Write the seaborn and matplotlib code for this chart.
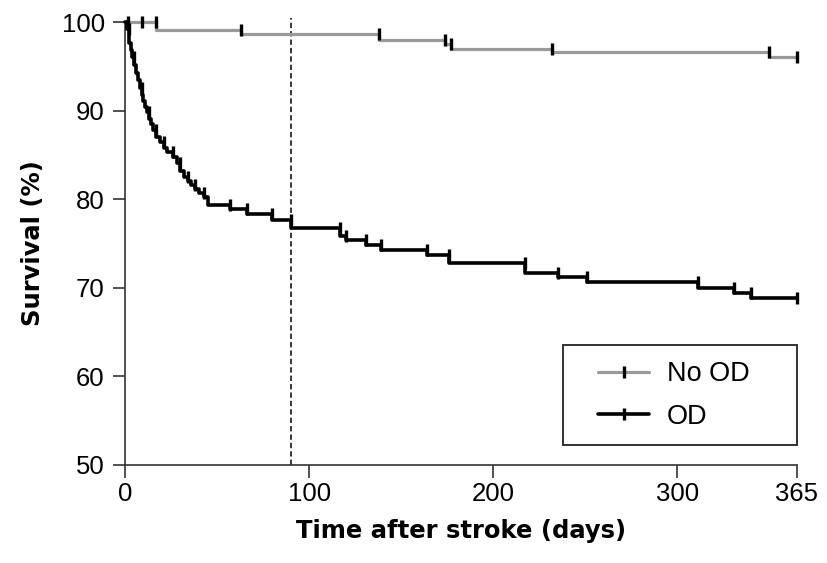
import matplotlib
matplotlib.use('Agg')
import matplotlib.pyplot as plt
from matplotlib.lines import Line2D
from matplotlib.patches import Rectangle
import numpy as np
import pandas as pd
import seaborn as sns

# Kaplan-Meier step data (time in days, survival % from that time onwards)
od_days = [0, 1, 2, 3, 4, 5, 6, 7, 8, 9, 10, 11, 12, 13, 14, 15, 17, 19, 21, 23,
           26, 28, 30, 32, 34, 36, 38, 40, 43, 45, 57, 66, 80, 90, 117, 120, 131,
           139, 164, 176, 217, 235, 251, 311, 331, 340, 365]
od_surv = [100, 99.2, 97.6, 96.8, 96.1, 95.2, 94.2, 93.4, 92.6, 91.8, 91.1, 90.4,
           89.8, 89.1, 88.5, 87.8, 87.0, 86.4, 85.8, 85.3, 84.8, 84.1, 83.2, 82.5,
           82.0, 81.6, 81.1, 80.7, 80.2, 79.4, 78.9, 78.3, 77.7, 76.7, 75.9, 75.4,
           74.8, 74.3, 73.7, 72.8, 71.7, 71.2, 70.6, 70.0, 69.4, 68.8, 68.8]
od_censor_days = [2, 5, 9, 13, 17, 21, 26, 30, 34, 38, 43, 57, 66, 80, 90, 117, 120,
                  131, 139, 164, 176, 217, 235, 251, 311, 331, 340, 365]

nood_days = [0, 17, 63, 138, 174, 177, 232, 350, 365]
nood_surv = [100, 99.1, 98.6, 98.0, 97.5, 97.0, 96.6, 96.1, 96.1]
nood_censor_days = [1.5, 9, 17, 63, 138, 174, 177, 232, 350, 365]

landmark_day = 90
x_ticks = [0, 100, 200, 300, 365]
y_ticks = [50, 60, 70, 80, 90, 100]


def level_before(days, surv, t):
    # survival value just before t (the upper level of a step)
    idx = np.searchsorted(days, t, side='left') - 1
    idx = max(idx, 0)
    return surv[idx]


sns.set_style('ticks')
plt.rcParams['font.family'] = ['Liberation Sans', 'DejaVu Sans']
plt.rcParams['text.color'] = 'black'
plt.rcParams['axes.labelcolor'] = 'black'

grey = '#9a9a9a'
fig = plt.figure(figsize=(8.27, 5.63), dpi=100)
ax = fig.add_axes([125 / 827, 1 - 465 / 563, 672 / 827, 443 / 563])

od_df = pd.DataFrame({'day': od_days, 'surv': od_surv})
nood_df = pd.DataFrame({'day': nood_days, 'surv': nood_surv})

sns.lineplot(data=nood_df, x='day', y='surv', drawstyle='steps-post', color=grey,
             lw=2.3, clip_on=False, ax=ax, zorder=3)
sns.lineplot(data=od_df, x='day', y='surv', drawstyle='steps-post', color='black',
             lw=2.6, clip_on=False, ax=ax, zorder=4)

nood_cens = pd.DataFrame({'day': nood_censor_days,
                          'surv': [level_before(nood_days, nood_surv, t) for t in nood_censor_days]})
od_cens = pd.DataFrame({'day': od_censor_days,
                        'surv': [level_before(od_days, od_surv, t) for t in od_censor_days]})
sns.scatterplot(data=nood_cens, x='day', y='surv', marker='|', s=80, linewidth=2.4,
                color='black', clip_on=False, ax=ax, zorder=5)
sns.scatterplot(data=od_cens, x='day', y='surv', marker='|', s=80, linewidth=2.4,
                color='black', clip_on=False, ax=ax, zorder=5)

ax.vlines(landmark_day, 50, 100.4, colors='black', linewidth=1.1,
          linestyles=(0, (3.5, 2)), clip_on=False, zorder=2)

ax.set_xlim(0, 365)
ax.set_ylim(50, 100)
ax.set_xticks(x_ticks)
ax.set_yticks(y_ticks)
sns.despine(ax=ax)
for side in ['left', 'bottom']:
    ax.spines[side].set_linewidth(1.2)
    ax.spines[side].set_color('#333333')
ax.tick_params(axis='x', length=9.5, width=1.2, color='#333333', pad=3,
               labelsize=18.5, labelcolor='black')
ax.tick_params(axis='y', length=8.5, width=1.2, color='#333333', pad=6,
               labelsize=18.5, labelcolor='black')

ax.set_xlabel('Time after stroke (days)', family='DejaVu Sans', fontweight='bold',
              fontsize=17.5, labelpad=9, color='black')
ax.set_ylabel('Survival (%)', family='DejaVu Sans', fontweight='bold',
              fontsize=17.5, labelpad=12, color='black')

# legend box
ax.add_patch(Rectangle(((563 - 125) / 672, 20 / 443), 234 / 672, 100 / 443,
                       transform=ax.transAxes, fill=False, edgecolor='#222222',
                       linewidth=1.3, clip_on=False, zorder=6))
handles = [Line2D([], [], color=grey, lw=2.3, marker='|', markersize=9,
                  markeredgewidth=2.4, markeredgecolor='black'),
           Line2D([], [], color='black', lw=2.6, marker='|', markersize=9,
                  markeredgewidth=2.4, markeredgecolor='black')]
leg = ax.legend(handles, ['No OD', 'OD'], loc='center left',
                bbox_to_anchor=((598 - 125) / 672, (465 - 395.5) / 443),
                frameon=False, fontsize=19.5, handlelength=1.9, handletextpad=0.65,
                labelspacing=0.6, borderpad=0, borderaxespad=0)
for txt in leg.get_texts():
    txt.set_color('black')

fig.savefig('out.png', dpi=100)
